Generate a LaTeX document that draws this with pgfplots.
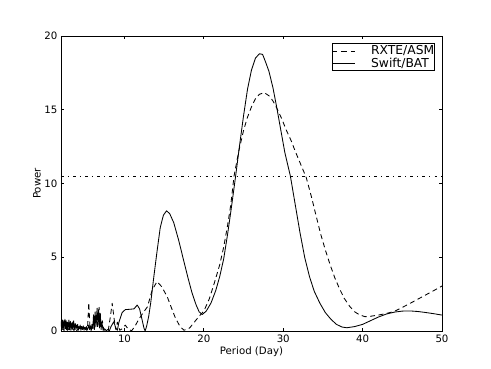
\documentclass[border=0pt]{standalone}
\usepackage{fontspec}
\setmainfont{DejaVu Sans}
\usepackage{pgfplots}
\usepackage{pgfplotstable}
\pgfplotsset{compat=1.18}

% RXTE/ASM periodogram
\pgfplotstableread{
p     pow
2.00  0.05
2.20  0.15
2.40  0.05
2.60  0.20
2.80  0.05
3.00  0.15
3.20  0.02
3.40  0.25
3.60  0.05
3.80  0.15
4.00  0.02
4.20  0.20
4.40  0.05
4.60  0.30
4.80  0.05
5.00  0.25
5.20  0.05
5.35  0.30
5.50  1.92
5.65  0.20
5.80  0.05
6.00  0.40
6.20  0.10
6.45  0.90
6.60  0.20
6.80  1.60
7.00  0.30
7.20  0.70
7.40  0.05
7.70  0.10
7.95  0.02
8.20  0.90
8.45  1.88
8.70  0.80
8.90  0.10
9.10  0.60
9.40  0.05
9.70  0.15
10.10 0.40
10.50 0.10
10.90 0.02
11.30 0.30
11.80 0.80
12.30 1.20
12.90 1.65
13.50 2.80
14.10 3.35
14.70 3.00
15.40 2.30
16.00 1.45
16.40 0.90
17.00 0.30
17.50 0.05
18.20 0.20
18.80 0.60
19.40 1.00
20.00 1.35
20.70 2.20
21.40 3.40
22.00 4.50
22.50 5.70
23.00 7.20
23.40 8.60
23.80 10.50
24.40 12.20
25.00 13.60
25.50 14.50
26.00 15.20
26.50 15.75
27.00 16.05
27.60 16.16
28.20 15.95
28.70 15.60
29.20 15.10
29.80 14.40
30.40 13.60
31.00 12.90
31.50 12.20
32.20 11.30
32.90 10.40
33.50 9.20
34.10 7.90
34.70 6.60
35.30 5.50
35.90 4.50
36.50 3.60
37.10 2.85
37.70 2.20
38.40 1.65
39.00 1.30
39.60 1.10
40.30 0.97
41.00 1.00
42.00 1.08
43.00 1.19
44.00 1.33
45.00 1.60
46.00 1.88
47.00 2.17
48.00 2.46
49.00 2.75
50.00 3.05
}\asmdata

% Swift/BAT periodogram
\pgfplotstableread{
p     pow
2.00  0.30
2.05  0.65
2.10  0.10
2.15  0.55
2.20  0.75
2.25  0.20
2.30  0.60
2.35  0.05
2.40  0.70
2.45  0.35
2.50  0.80
2.55  0.15
2.60  0.50
2.65  0.70
2.70  0.10
2.75  0.45
2.80  0.60
2.85  0.05
2.90  0.55
2.95  0.30
3.00  0.75
3.06  0.10
3.12  0.50
3.18  0.65
3.24  0.05
3.30  0.40
3.36  0.55
3.42  0.10
3.48  0.60
3.54  0.25
3.60  0.70
3.67  0.05
3.74  0.35
3.81  0.50
3.88  0.10
3.95  0.40
4.02  0.20
4.10  0.45
4.18  0.05
4.26  0.30
4.34  0.15
4.42  0.40
4.50  0.05
4.60  0.30
4.70  0.10
4.80  0.35
4.90  0.05
5.00  0.25
5.10  0.10
5.20  0.30
5.30  0.05
5.40  0.20
5.50  0.40
5.60  0.10
5.70  0.35
5.80  0.05
5.90  0.45
6.00  0.15
6.10  1.10
6.20  0.20
6.30  1.30
6.40  0.30
6.55  1.55
6.65  0.40
6.75  1.45
6.85  0.20
6.95  1.20
7.05  0.10
7.15  0.60
7.30  0.05
7.50  0.15
7.70  0.02
7.90  0.10
8.10  0.02
8.30  0.30
8.65  0.63
8.90  0.20
9.10  0.05
9.30  0.60
9.70  1.25
10.10 1.45
10.60 1.47
11.20 1.50
11.60 1.76
11.90 1.50
12.20 0.80
12.45 0.20
12.60 0.00
12.80 0.35
13.05 1.00
13.30 1.90
13.70 3.70
14.10 5.40
14.50 7.00
14.90 7.85
15.30 8.15
15.70 7.95
16.20 7.35
16.80 6.20
17.40 4.90
18.00 3.60
18.50 2.60
19.00 1.80
19.40 1.30
19.80 1.12
20.30 1.35
20.90 1.90
21.50 2.75
22.00 3.70
22.50 4.90
23.00 6.60
23.50 8.50
24.00 10.50
24.50 12.60
25.00 14.60
25.50 16.40
26.00 17.70
26.50 18.50
27.00 18.80
27.40 18.75
27.80 18.20
28.20 17.60
28.70 16.50
29.20 15.10
29.70 13.60
30.20 12.10
30.90 10.50
31.50 8.60
32.10 6.70
32.70 5.00
33.30 3.70
33.90 2.70
34.60 1.90
35.30 1.25
36.00 0.80
36.70 0.45
37.40 0.27
38.00 0.22
39.00 0.30
40.00 0.45
41.00 0.70
42.00 0.95
43.00 1.15
44.00 1.28
45.00 1.35
46.00 1.36
47.00 1.32
48.00 1.25
49.00 1.17
50.00 1.08
}\batdata

\begin{document}
\begin{tikzpicture}
\useasboundingbox (0,0) rectangle (491pt,368pt);
\begin{axis}[
    at={(61pt,37pt)}, anchor=south west,
    scale only axis,
    width=381pt, height=295pt,
    xmin=2, xmax=50, ymin=0, ymax=20,
    xtick={10,20,30,40,50},
    ytick={0,5,10,15,20},
    tick align=inside,
    major tick length=3.4pt,
    axis line style={line width=0.85pt},
    every tick/.style={black, line width=0.85pt},
    tick label style={font=\fontsize{10.2}{12}\selectfont},
    /pgf/number format/assume math mode=true,
    xlabel={Period (Day)},
    ylabel={Power},
    label style={font=\fontsize{10.2}{12}\selectfont},
    xlabel style={at={(axis description cs:0.5,-0.071)}, anchor=center},
    ylabel style={at={(axis description cs:-0.063,0.5)}, anchor=center},
    legend image code/.code={\path (0pt,0pt) -- (10pt,0pt);
        \draw[#1] (10pt,0pt) -- (22.6pt,0pt);
        \path (38.3pt,0pt);},
    legend style={at={(1,1)}, anchor=north east, xshift=-7.4pt, yshift=-7.3pt,
        font=\fontsize{12.3}{14}\selectfont, draw=black, line width=0.85pt,
        inner xsep=0pt, inner ysep=1.5pt, row sep=0pt, column sep=0pt,
        nodes={inner ysep=0.6pt, inner xsep=0pt},
        cells={anchor=west}},
]
\addplot[black, no marks, line width=0.85pt, line join=round,
    dash pattern=on 5pt off 3.5pt] table[x=p, y=pow] {\asmdata};
\addlegendentry{RXTE/ASM\hspace{6.6pt}}
\addplot[black, no marks, solid, line width=0.85pt, line join=round]
    table[x=p, y=pow] {\batdata};
\addlegendentry{Swift/BAT\hspace{6.6pt}}
\addplot[forget plot, black, no marks, line width=0.85pt,
    dash pattern=on 2.6pt off 4.3pt on 0.85pt off 4.3pt]
    coordinates {(2,10.5) (50,10.5)};
\end{axis}
\end{tikzpicture}
\end{document}
